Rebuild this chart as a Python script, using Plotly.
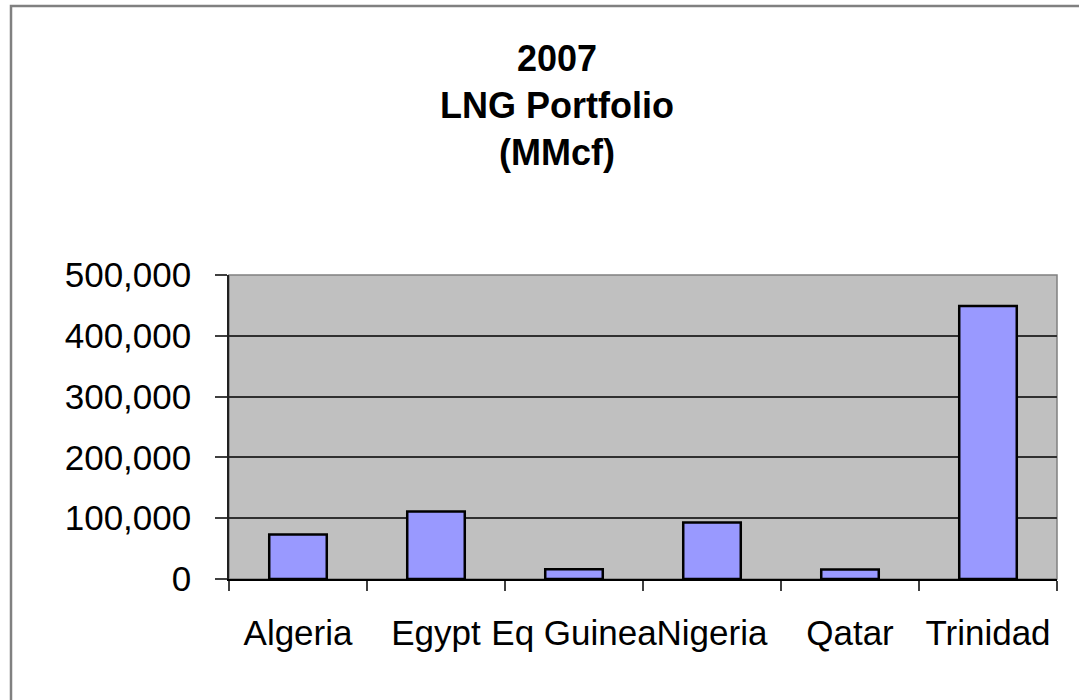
import plotly.graph_objects as go

categories = ["Algeria", "Egypt", "Eq Guinea", "Nigeria", "Qatar", "Trinidad"]
values = [73000, 111000, 16000, 93000, 15500, 449000]
y_ticks = [0, 100000, 200000, 300000, 400000, 500000]
y_ticktext = ["0", "100,000", "200,000", "300,000", "400,000", "500,000"]
title_lines = ["2007", "LNG Portfolio", "(MMcf)"]

FONT = "Arial, 'Liberation Sans', sans-serif"

fig = go.Figure()
fig.add_trace(go.Bar(
    x=categories, y=values,
    marker=dict(color="#9999FF", line=dict(color="#000000", width=2.5)),
))

W, H = 1079, 700
ml, mr, mt, mb = 229, 22, 275, 121
pw, ph = W - ml - mr, H - mt - mb

fig.update_layout(
    width=W, height=H,
    margin=dict(l=ml, r=mr, t=mt, b=mb, autoexpand=False),
    paper_bgcolor="white",
    plot_bgcolor="#C0C0C0",
    showlegend=False,
    bargap=0.583,
    title=dict(
        text="<br>".join(f"<b>{t}</b>" for t in title_lines),
        x=557 / W, xanchor="center", xref="container",
        y=1 - 71 / H, yanchor="top", yref="container",
        font=dict(family=FONT, size=36, color="black"),
    ),
    font=dict(family=FONT, color="black"),
)

fig.update_xaxes(
    type="category", automargin=False,
    showline=True, linecolor="#000000", linewidth=1.5,
    ticks="outside", tickson="boundaries", ticklen=10, tickcolor="#404040", tickwidth=1.5,
    tickangle=0,
    tickfont=dict(family=FONT, size=35, color="black"),
    ticklabelstandoff=22,
    showgrid=False,
)
fig.update_yaxes(
    range=[0, 500000], automargin=False,
    tickvals=y_ticks, ticktext=y_ticktext,
    showline=True, linecolor="#202020", linewidth=1.5,
    ticks="outside", ticklen=12, tickcolor="#404040", tickwidth=1.5,
    tickfont=dict(family=FONT, size=35, color="black"),
    ticklabelstandoff=17,
    showgrid=True, gridcolor="#303030", gridwidth=1.5,
    zeroline=False,
)

# plot-area border (grey)
fig.add_shape(type="rect", xref="paper", yref="paper", x0=0, y0=0, x1=1, y1=1,
              line=dict(color="#808080", width=1.5), layer="below")
# outer chart border
fig.add_shape(type="rect", xref="paper", yref="paper",
              x0=(11 - ml) / pw, y0=(H - mb - 6) / ph,
              x1=(W + 20 - ml) / pw, y1=-(mb + 20) / ph,
              line=dict(color="#808080", width=2.5), layer="below")

fig.write_html(
    "out.html",
    config={"displayModeBar": False},
    post_script="document.body.style.margin='0';document.body.style.overflow='hidden';",
)
